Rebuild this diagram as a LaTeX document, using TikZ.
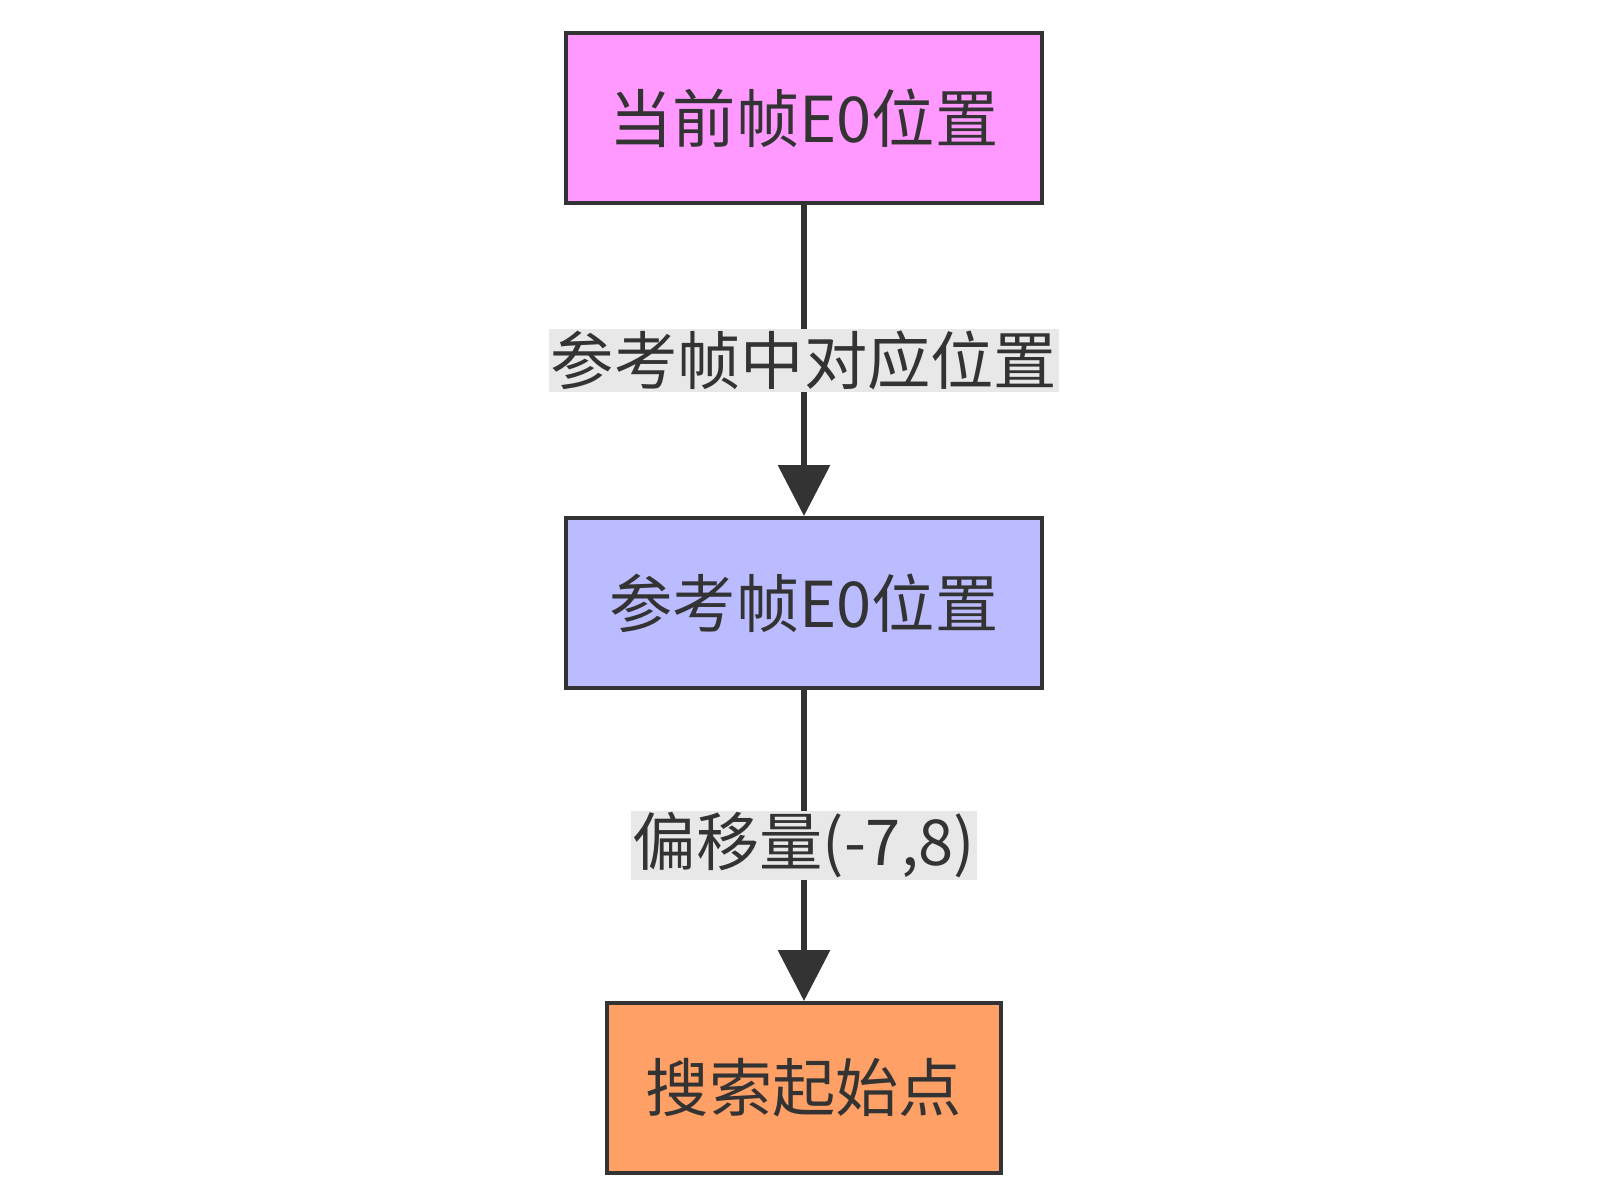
\documentclass[tikz,border=0pt]{standalone}
\usepackage{fontspec}
\setmainfont{Noto Sans CJK SC}
\usetikzlibrary{arrows.meta}
\definecolor{boxline}{HTML}{333333}
\definecolor{curfill}{HTML}{FF99FF}
\definecolor{reffill}{HTML}{BBBBFF}
\definecolor{srchfill}{HTML}{FFA066}
\definecolor{lblfill}{HTML}{E8E8E8}

\begin{document}
\begin{tikzpicture}[thick,
  box/.style={draw=boxline, line width=2.2pt, minimum height=3.4cm, text=boxline,
    font=\fontsize{36}{40}\selectfont},
  lbl/.style={fill=lblfill, text=boxline, inner sep=1pt, font=\fontsize{36}{40}\selectfont},
  flow/.style={draw=boxline, line width=3.6pt, -{Triangle[length=1.02cm,width=1.02cm]}}]
\useasboundingbox (0,0) rectangle (32,-24);
\node [box, fill=curfill, minimum width=9.52cm] (cur) at (16.08,-2.36) {当前帧E0位置};
\node [box, fill=reffill, minimum width=9.52cm] (ref) at (16.08,-12.06) {参考帧E0位置};
\node [box, fill=srchfill, minimum width=7.88cm] (srch) at (16.08,-21.76) {搜索起始点};

\draw[flow] (cur) -- node[lbl] (l1) {参考帧中对应位置} (ref);
\draw[flow] (ref) -- node[lbl] (l2) {偏移量(-7,8)} (srch);
\end{tikzpicture}
\end{document}
